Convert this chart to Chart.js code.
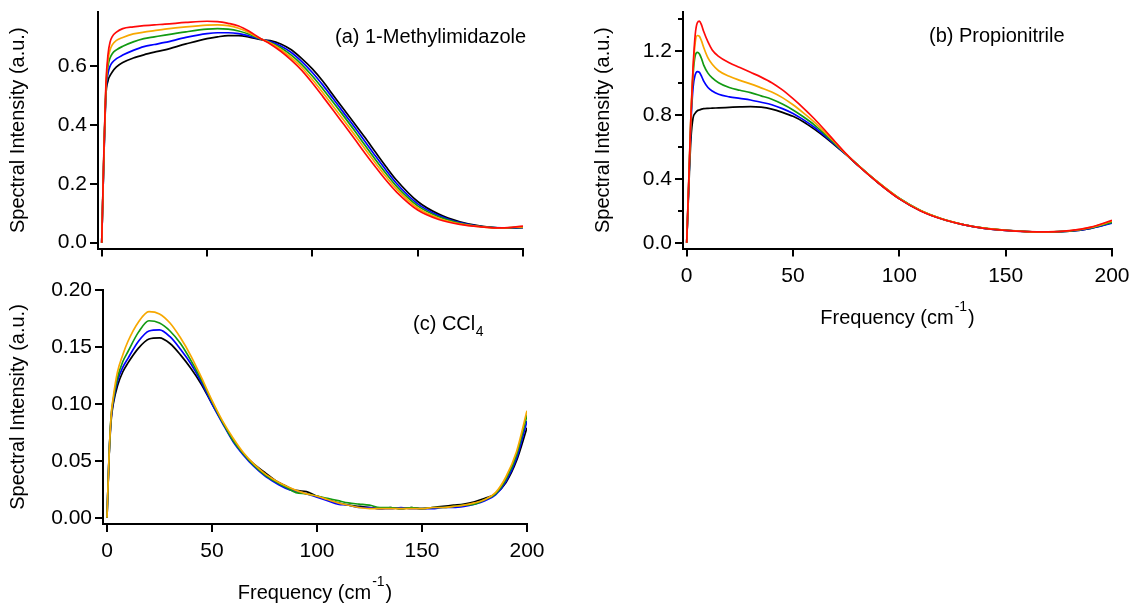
<!DOCTYPE html>
<html>
<head>
<meta charset="utf-8">
<script src="https://cdn.jsdelivr.net/npm/chart.js@4.4.1/dist/chart.umd.min.js"></script>
<style>
html,body{margin:0;padding:0;background:#fff;width:1132px;height:603px;overflow:hidden}
canvas{position:absolute;left:0;top:0}
</style>
</head>
<body>
<canvas id="ca" width="1132" height="603"></canvas>
<canvas id="cb" width="1132" height="603"></canvas>
<canvas id="cc" width="1132" height="603"></canvas>
<script>
// ---------------- data ----------------
const xTicks = [0, 50, 100, 150, 200];

// (a) 1-Methylimidazole
const freqA = [0, 1, 2, 3, 4, 5, 7, 10, 15, 20, 25, 30, 40, 50, 55, 60, 65, 70,
  75, 80, 85, 90, 95, 100, 105, 110, 115, 120, 125, 130, 135, 140, 150, 160, 170, 180, 190, 200];
const aBlack = [0, 0.28, 0.5, 0.55, 0.568, 0.58, 0.597, 0.612, 0.627, 0.638, 0.647, 0.655, 0.675, 0.693, 0.699, 0.703, 0.703, 0.698,
  0.69, 0.686, 0.675, 0.655, 0.625, 0.59, 0.548, 0.5, 0.452, 0.405, 0.357, 0.307, 0.258, 0.212, 0.14, 0.097, 0.071, 0.056, 0.05, 0.051];
const aBlue = [0, 0.28, 0.51, 0.575, 0.6, 0.612, 0.625, 0.637, 0.653, 0.666, 0.673, 0.68, 0.697, 0.71, 0.713, 0.713, 0.71, 0.702,
  0.692, 0.683, 0.668, 0.646, 0.615, 0.578, 0.535, 0.488, 0.44, 0.393, 0.344, 0.294, 0.246, 0.201, 0.132, 0.092, 0.068, 0.055, 0.05, 0.052];
const aGreen = [0, 0.29, 0.52, 0.6, 0.628, 0.642, 0.655, 0.667, 0.682, 0.693, 0.699, 0.705, 0.716, 0.725, 0.727, 0.725, 0.719, 0.708,
  0.693, 0.68, 0.662, 0.637, 0.605, 0.566, 0.522, 0.476, 0.429, 0.381, 0.331, 0.282, 0.235, 0.191, 0.125, 0.088, 0.066, 0.055, 0.05, 0.053];
const aOrange = [0, 0.29, 0.53, 0.62, 0.655, 0.672, 0.687, 0.697, 0.709, 0.715, 0.72, 0.725, 0.733, 0.739, 0.74, 0.737, 0.728, 0.713,
  0.694, 0.678, 0.656, 0.628, 0.595, 0.554, 0.509, 0.462, 0.415, 0.367, 0.318, 0.27, 0.224, 0.182, 0.118, 0.083, 0.064, 0.054, 0.05, 0.054];
const aRed = [0, 0.3, 0.54, 0.64, 0.682, 0.7, 0.715, 0.727, 0.733, 0.737, 0.74, 0.742, 0.748, 0.752, 0.751, 0.745, 0.736, 0.718,
  0.695, 0.675, 0.65, 0.62, 0.585, 0.542, 0.496, 0.449, 0.401, 0.353, 0.304, 0.257, 0.212, 0.172, 0.111, 0.079, 0.062, 0.054, 0.05, 0.056];
const aYTicks = [0, 0.2, 0.4, 0.6];

// (b) Propionitrile
const freqB = [0, 1, 2, 3, 4, 5, 6, 7, 8, 10, 12, 15, 20, 25, 30, 35, 40, 45, 50, 55, 60, 65, 70,
  75, 80, 90, 100, 110, 120, 130, 140, 150, 160, 170, 180, 190, 200];
const bBlack = [0, 0.35, 0.65, 0.78, 0.81, 0.825, 0.83, 0.835, 0.838, 0.84, 0.841, 0.843, 0.846, 0.849, 0.851, 0.847, 0.835, 0.815, 0.79, 0.755, 0.71, 0.66, 0.605,
  0.55, 0.49, 0.375, 0.275, 0.2, 0.148, 0.113, 0.09, 0.077, 0.07, 0.067, 0.072, 0.09, 0.125];
const bBlue = [0, 0.38, 0.75, 0.97, 1.05, 1.07, 1.065, 1.04, 1.01, 0.97, 0.948, 0.928, 0.912, 0.902, 0.892, 0.878, 0.862, 0.838, 0.808, 0.768, 0.722, 0.668, 0.61,
  0.55, 0.49, 0.376, 0.276, 0.2, 0.148, 0.113, 0.09, 0.077, 0.069, 0.067, 0.072, 0.09, 0.122];
const bGreen = [0, 0.38, 0.78, 1.05, 1.17, 1.19, 1.18, 1.15, 1.11, 1.06, 1.03, 1.0, 0.97, 0.953, 0.938, 0.918, 0.897, 0.867, 0.83, 0.786, 0.737, 0.678, 0.615,
  0.552, 0.492, 0.378, 0.278, 0.202, 0.15, 0.114, 0.091, 0.078, 0.07, 0.068, 0.073, 0.092, 0.128];
const bOrange = [0, 0.4, 0.8, 1.08, 1.25, 1.295, 1.29, 1.26, 1.22, 1.155, 1.115, 1.075, 1.04, 1.015, 0.993, 0.968, 0.942, 0.907, 0.862, 0.81, 0.754, 0.69, 0.622,
  0.553, 0.492, 0.378, 0.277, 0.201, 0.149, 0.114, 0.091, 0.078, 0.07, 0.068, 0.075, 0.096, 0.135];
const bRed = [0, 0.4, 0.8, 1.1, 1.3, 1.375, 1.385, 1.36, 1.32, 1.255, 1.205, 1.165, 1.125, 1.095, 1.065, 1.035, 1.0, 0.955, 0.9, 0.84, 0.775, 0.703, 0.628,
  0.555, 0.49, 0.375, 0.274, 0.199, 0.148, 0.113, 0.09, 0.077, 0.07, 0.068, 0.076, 0.098, 0.14];
const bYTicks = [0, 0.4, 0.8, 1.2];
const bYMinorTicks = [0.2, 0.6, 1.0, 1.4];

// (c) CCl4
const freqC = [0, 1, 2, 3, 5, 7.5, 10, 15, 20, 25, 30, 35, 40, 45, 50, 55, 60, 65, 70, 75, 80, 85, 90, 95, 100,
  105, 110, 115, 120, 125, 130, 135, 140, 145, 150, 155, 160, 165, 170, 175, 180, 185, 190, 195, 200];
const cBlack = [0, 0.054, 0.086, 0.1, 0.116, 0.128, 0.136, 0.149, 0.157, 0.158, 0.153, 0.143, 0.131, 0.117, 0.1, 0.084, 0.068, 0.056, 0.047, 0.04, 0.033, 0.028, 0.024, 0.023, 0.019,
  0.016, 0.013, 0.011, 0.01, 0.009, 0.008, 0.009, 0.008, 0.009, 0.008, 0.009, 0.01, 0.011, 0.012, 0.014, 0.017, 0.021, 0.031, 0.05, 0.079];
const cBlue = [0, 0.055, 0.088, 0.102, 0.12, 0.132, 0.14, 0.155, 0.164, 0.165, 0.159, 0.148, 0.135, 0.119, 0.1, 0.083, 0.067, 0.055, 0.045, 0.037, 0.031, 0.026, 0.023, 0.021, 0.018,
  0.015, 0.012, 0.011, 0.009, 0.009, 0.008, 0.008, 0.009, 0.008, 0.008, 0.008, 0.009, 0.009, 0.01, 0.012, 0.015, 0.02, 0.032, 0.052, 0.085];
const cGreen = [0, 0.055, 0.09, 0.104, 0.123, 0.137, 0.146, 0.163, 0.173, 0.171, 0.164, 0.153, 0.138, 0.121, 0.102, 0.084, 0.068, 0.056, 0.046, 0.038, 0.032, 0.027, 0.022, 0.021, 0.019,
  0.017, 0.015, 0.013, 0.012, 0.011, 0.009, 0.009, 0.008, 0.009, 0.008, 0.009, 0.009, 0.01, 0.011, 0.012, 0.016, 0.021, 0.034, 0.055, 0.09];
const cOrange = [0, 0.055, 0.09, 0.106, 0.128, 0.143, 0.155, 0.172, 0.181, 0.179, 0.171, 0.158, 0.142, 0.123, 0.103, 0.085, 0.07, 0.057, 0.047, 0.039, 0.033, 0.028, 0.024, 0.021, 0.019,
  0.016, 0.013, 0.011, 0.009, 0.008, 0.008, 0.008, 0.008, 0.008, 0.008, 0.009, 0.009, 0.01, 0.011, 0.013, 0.016, 0.022, 0.036, 0.058, 0.094];
const cYTicks = [0, 0.05, 0.1, 0.15, 0.2];

// ---------------- styling ----------------
const FONT = '"Liberation Sans", Arial, Helvetica, sans-serif';
Chart.defaults.font.family = FONT;
Chart.defaults.color = '#000';
const COL = {black: '#000000', blue: '#0000ff', green: '#129a12', orange: '#f7a800', red: '#ff0a0a'};

const textPlugin = {
  id: 'panelText',
  afterDraw(chart, args, o) {
    const ctx = chart.ctx;
    ctx.save();
    ctx.fillStyle = '#000';
    ctx.textAlign = 'left';
    ctx.textBaseline = 'alphabetic';
    if (o.label) {
      ctx.font = o.size + 'px ' + FONT;
      ctx.fillText(o.label, o.x, o.y);
      if (o.sub) {
        const w = ctx.measureText(o.label).width;
        ctx.font = Math.round(o.size * 0.68) + 'px ' + FONT;
        ctx.fillText(o.sub, o.x + w + 0.5, o.y + 6);
      }
    }
    if (o.xTitle) {
      const ca = chart.chartArea;
      const cx = (ca.left + ca.right) / 2;
      const base = ca.bottom + o.titleGap;
      const t1 = 'Frequency (cm', t2 = '-1', t3 = ')';
      ctx.font = '20px ' + FONT;
      const w1 = ctx.measureText(t1).width, w3 = ctx.measureText(t3).width;
      ctx.font = '14px ' + FONT;
      const w2 = ctx.measureText(t2).width;
      let x = cx - (w1 + w2 + w3 + 2) / 2;
      ctx.font = '20px ' + FONT;
      ctx.fillText(t1, x, base);
      x += w1 + 1;
      ctx.font = '14px ' + FONT;
      ctx.fillText(t2, x, base - 13);
      x += w2 + 1;
      ctx.font = '20px ' + FONT;
      ctx.fillText(t3, x, base);
    }
    if (o.minorY) {
      const ys = chart.scales.y;
      const left = chart.chartArea.left;
      ctx.strokeStyle = '#000';
      ctx.lineWidth = 2;
      o.minorY.forEach(v => {
        const py = Math.round(ys.getPixelForValue(v));
        ctx.beginPath();
        ctx.moveTo(left - 1, py);
        ctx.lineTo(left - 5, py);
        ctx.stroke();
      });
    }
    ctx.restore();
  }
};

function panel(id, cfg) {
  const datasets = cfg.series.map(s => ({
    data: cfg.x.map((x, i) => ({x: x, y: s.values[i]})),
    borderColor: s.color,
    borderWidth: 1.7,
    pointRadius: 0,
    fill: false,
    cubicInterpolationMode: 'monotone'
  }));
  const gridOpts = {drawOnChartArea: false, drawTicks: true, tickLength: 8, color: '#000', lineWidth: 2};
  const borderOpts = {display: true, color: '#000', width: 2};
  return new Chart(document.getElementById(id), {
    type: 'line',
    data: {datasets: datasets},
    options: {
      responsive: false,
      animation: false,
      devicePixelRatio: 1,
      layout: {padding: cfg.padding},
      plugins: {legend: {display: false}, tooltip: {enabled: false}, panelText: cfg.text},
      scales: {
        x: {
          type: 'linear', min: cfg.xMin, max: 200,
          grid: gridOpts, border: borderOpts,
          afterBuildTicks: s => { s.ticks = xTicks.map(v => ({value: v})); },
          afterFit: s => { s.height = cfg.xHeight; s.paddingLeft = 0; s.paddingRight = 0; },
          ticks: {display: cfg.xLabels, font: {size: 21}, color: '#000', padding: 7,
                  maxRotation: 0, autoSkip: false, callback: v => String(v)}
        },
        y: {
          type: 'linear', min: cfg.yMin, max: cfg.yMax,
          grid: gridOpts, border: borderOpts,
          afterBuildTicks: s => { s.ticks = cfg.yTicks.map(v => ({value: v})); },
          afterFit: s => { s.width = cfg.yWidth; s.paddingTop = 0; s.paddingBottom = 0; },
          ticks: {font: {size: 21}, color: '#000', padding: 3, autoSkip: false,
                  callback: v => Number(v).toFixed(cfg.yDecimals)},
          title: {display: true, text: 'Spectral Intensity (a.u.)', font: {size: 20}, color: '#000',
                  padding: {top: 6, bottom: 0}}
        }
      }
    },
    plugins: [textPlugin]
  });
}

panel('ca', {
  x: freqA,
  series: [
    {values: aRed, color: COL.red},
    {values: aOrange, color: COL.orange},
    {values: aGreen, color: COL.green},
    {values: aBlue, color: COL.blue},
    {values: aBlack, color: COL.black}
  ],
  padding: {left: 0, top: 12, right: 609, bottom: 324.5},
  xHeight: 30, xMin: -1.76, xLabels: false,
  yWidth: 98, yMin: -0.0197, yMax: 0.7834, yTicks: aYTicks, yDecimals: 1,
  text: {label: '(a) 1-Methylimidazole', x: 335, y: 43, size: 20}
});

panel('cb', {
  x: freqB,
  series: [
    {values: bRed, color: COL.red},
    {values: bOrange, color: COL.orange},
    {values: bGreen, color: COL.green},
    {values: bBlue, color: COL.blue},
    {values: bBlack, color: COL.black}
  ],
  padding: {left: 585, top: 12, right: 20, bottom: 314.5},
  xHeight: 40, xMin: -1.74, xLabels: true,
  yWidth: 98, yMin: -0.036, yMax: 1.442, yTicks: bYTicks, yDecimals: 1,
  text: {label: '(b) Propionitrile', x: 929, y: 42, size: 20, xTitle: true, titleGap: 75, minorY: bYMinorTicks}
});

panel('cc', {
  x: freqC,
  series: [
    {values: cOrange, color: COL.orange},
    {values: cGreen, color: COL.green},
    {values: cBlue, color: COL.blue},
    {values: cBlack, color: COL.black}
  ],
  padding: {left: 0, top: 290, right: 605, bottom: 39},
  xHeight: 40, xMin: -1.9, xLabels: true,
  yWidth: 103, yMin: -0.0055, yMax: 0.2, yTicks: cYTicks, yDecimals: 2,
  text: {label: '(c) CCl', sub: '4', x: 413, y: 330, size: 20, xTitle: true, titleGap: 75}
});
</script>
</body>
</html>
